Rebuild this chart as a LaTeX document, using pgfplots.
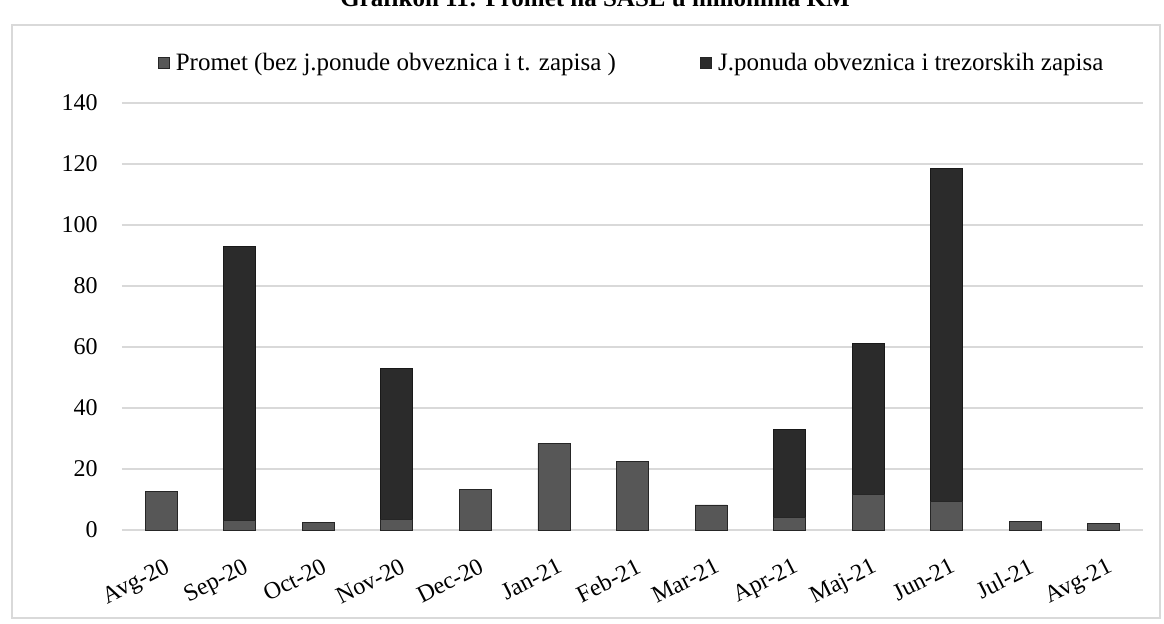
\documentclass[border=0pt]{standalone}
\usepackage{fontspec}
\setmainfont{Liberation Serif}
\usepackage{pgfplots}
\pgfplotsset{compat=1.18}
\definecolor{prometc}{HTML}{575757}
\definecolor{jponc}{HTML}{2B2B2B}
\begin{document}
\begin{tikzpicture}
\useasboundingbox (0,0) rectangle (582pt,311.5pt);
\clip (0,0) rectangle (582pt,311.5pt);
\draw[black!15, line width=0.8pt] (6pt,2.5pt) rectangle (580pt,299pt);
\node[font=\bfseries\fontsize{12.5}{14}\selectfont, anchor=base] at (297.5pt,308.5pt) {Grafikon 11: Promet na SASE u milionima KM};
\begin{axis}[
 at={(61pt,46.5pt)}, anchor=south west,
 scale only axis, width=510.5pt, height=213.5pt,
 ybar stacked, bar width=16pt,
 xmin=-0.5, xmax=12.5, ymin=0, ymax=140,
 xtick={0,...,12},
 xticklabels={Avg-20,Sep-20,Oct-20,Nov-20,Dec-20,Jan-21,Feb-21,Mar-21,Apr-21,Maj-21,Jun-21,Jul-21,Avg-21},
 ytick={0,20,...,140},
 ymajorgrids, grid style={black!15, line width=0.8pt},
 axis line style={draw=none}, major tick length=0pt,
 tick label style={font=\fontsize{12}{14}\selectfont},
 yticklabel style={anchor=east, inner sep=0pt, xshift=-12pt},
 xticklabel style={rotate=27, anchor=north east, inner sep=0pt, yshift=-12.5pt, xshift=-5pt},
 /pgf/number format/assume math mode=true,
 legend columns=2,
 legend style={at={(0.5,1.094)}, anchor=center, draw=none, fill=none, font=\fontsize{12.5}{14}\selectfont,
   /tikz/every odd column/.append style={column sep=1pt},
   /tikz/every even column/.append style={column sep=40pt}},
 legend image code/.code={\draw[#1, draw=black!85] (0cm,-0.1cm) rectangle (0.2cm,0.1cm);},
]
\addplot[fill=prometc, draw=black!85] coordinates {
 (0,12.5) (1,3) (2,2.5) (3,3.5) (4,13.3) (5,28.3) (6,22.6) (7,8.2) (8,4) (9,11.8) (10,9.5) (11,2.8) (12,2.2)};
\addlegendentry{Promet (bez j.ponude obveznica i t. zapisa )}
\addplot[fill=jponc, draw=black!90] coordinates {
 (0,0) (1,90) (2,0) (3,49.5) (4,0) (5,0) (6,0) (7,0) (8,29) (9,49.5) (10,109) (11,0) (12,0)};
\addlegendentry{J.ponuda obveznica i trezorskih zapisa}
\end{axis}
\end{tikzpicture}
\end{document}
